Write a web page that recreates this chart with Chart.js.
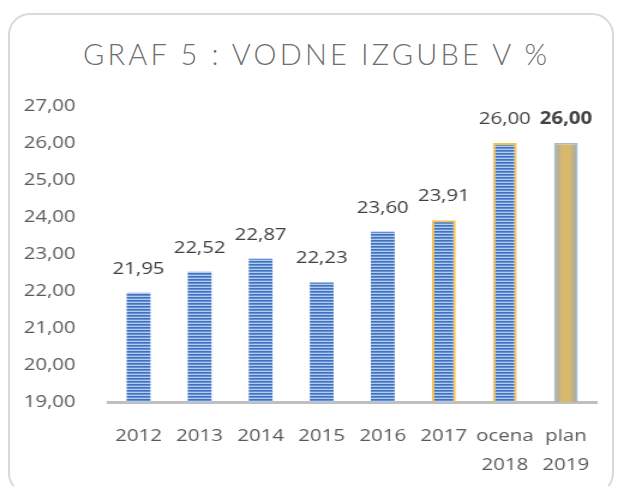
<!DOCTYPE html>
<html>
<head>
<meta charset="utf-8">
<script src="https://cdn.jsdelivr.net/npm/chart.js@4.4.1/dist/chart.umd.min.js"></script>
<style>
  html, body { margin: 0; padding: 0; background: #ffffff; }
  body { width: 618px; height: 486px; position: relative; overflow: hidden; }
  #frame { position: absolute; left: 8px; top: 13px; width: 606px; height: 482px;
           border: 2px solid #d9d9d9; border-radius: 22px; box-sizing: border-box; }
  #title { position: absolute; left: 83px; top: 39px; white-space: nowrap;
           font-family: Lato, "Open Sans", sans-serif; font-weight: 300; font-size: 29px;
           line-height: 29px; color: #707070; }
  #wrap { position: absolute; left: 0; top: 0; width: 515px; height: 486px;
          transform: scaleX(1.2); transform-origin: 0 0; }
</style>
</head>
<body>
<div id="frame"></div>
<div id="title"><span id="tt">GRAF 5 : VODNE IZGUBE V %</span></div>
<div id="wrap"><canvas id="c"></canvas></div>
<script>
// ---- data ----
const categories = [["2012"], ["2013"], ["2014"], ["2015"], ["2016"], ["2017"], ["ocena", "2018"], ["plan", "2019"]];
const lossValues = [21.95, 22.52, 22.87, 22.23, 23.60, 23.91, 26.00, 26.00];
const yTickMin = 19;
const yTickMax = 27;
const yTickStep = 1;
const boldLabelIndex = 7;

// ---- title letter spacing fit ----
(function () {
  const span = document.getElementById('tt');
  const target = 464;
  const w0 = span.getBoundingClientRect().width;
  const n = span.textContent.length;
  const ls = (target - w0) / (n - 1);
  span.style.letterSpacing = ls + 'px';
})();

const fmt = v => v.toFixed(2).replace('.', ',');

const canvas = document.getElementById('c');
const c2d = canvas.getContext('2d');

// striped pattern
const pc = document.createElement('canvas');
pc.width = 4; pc.height = 3;
const pctx = pc.getContext('2d');
pctx.fillStyle = '#4272bd'; pctx.fillRect(0, 0, 4, 1);
pctx.fillStyle = '#6290d4'; pctx.fillRect(0, 1, 4, 1);
pctx.fillStyle = '#b3caec'; pctx.fillRect(0, 2, 4, 1);
const stripes = c2d.createPattern(pc, 'repeat');

const BAR_FRAC = 0.39;

function barFill(ctx) {
  const i = ctx.dataIndex;
  if (i !== 7) return stripes;
  const chart = ctx.chart;
  const area = chart.chartArea;
  if (!area) return '#d9b76a';
  const x = chart.scales.x.getPixelForValue(i);
  const half = (area.width / categories.length) * BAR_FRAC / 2;
  const g = chart.ctx.createLinearGradient(x - half, 0, x + half, 0);
  g.addColorStop(0, '#9aa8b4');
  g.addColorStop(0.35, '#d8b86c');
  g.addColorStop(0.65, '#d8b86c');
  g.addColorStop(1, '#9aa8b4');
  return g;
}

const valueLabels = {
  id: 'valueLabels',
  afterDatasetsDraw(chart) {
    const ctx = chart.ctx;
    const meta = chart.getDatasetMeta(0);
    ctx.save();
    ctx.fillStyle = '#404040';
    ctx.textAlign = 'center';
    ctx.textBaseline = 'alphabetic';
    meta.data.forEach((el, i) => {
      ctx.font = (i === boldLabelIndex ? 'bold ' : '') + '17px "Open Sans", sans-serif';
      ctx.fillText(fmt(lossValues[i]), el.x, el.y - 19);
    });
    ctx.restore();
  }
};

new Chart(canvas, {
  type: 'bar',
  data: {
    labels: categories,
    datasets: [{
      data: lossValues,
      backgroundColor: barFill,
      borderColor: ['rgba(0,0,0,0)', 'rgba(0,0,0,0)', 'rgba(0,0,0,0)', 'rgba(0,0,0,0)', 'rgba(0,0,0,0)', '#f7c04a', '#f7c04a', '#a9b9cc'],
      borderWidth: [0, 0, 0, 0, 0, 2, 2, 1.5],
      borderSkipped: 'bottom',
      barPercentage: BAR_FRAC,
      categoryPercentage: 1.0
    }]
  },
  options: {
    responsive: true,
    maintainAspectRatio: false,
    animation: false,
    layout: { padding: { left: 0, right: 18, top: 106, bottom: 0 } },
    plugins: { legend: { display: false }, tooltip: { enabled: false }, title: { display: false } },
    scales: {
      x: {
        grid: { display: false },
        border: { display: true, color: '#bfbfbf', width: 3 },
        ticks: {
          color: '#595959',
          font: { family: '"Open Sans", sans-serif', size: 17, lineHeight: 1.68 },
          padding: 12,
          maxRotation: 0,
          autoSkip: false
        },
        afterFit: s => { s.height = 84; }
      },
      y: {
        min: yTickMin,
        max: yTickMax,
        grid: { display: false },
        border: { display: false },
        ticks: {
          stepSize: yTickStep,
          color: '#595959',
          font: { family: '"Open Sans", sans-serif', size: 17 },
          padding: 19,
          callback: v => fmt(v)
        },
        afterFit: s => { s.width = 90; }
      }
    }
  },
  plugins: [valueLabels]
});
</script>
</body>
</html>
